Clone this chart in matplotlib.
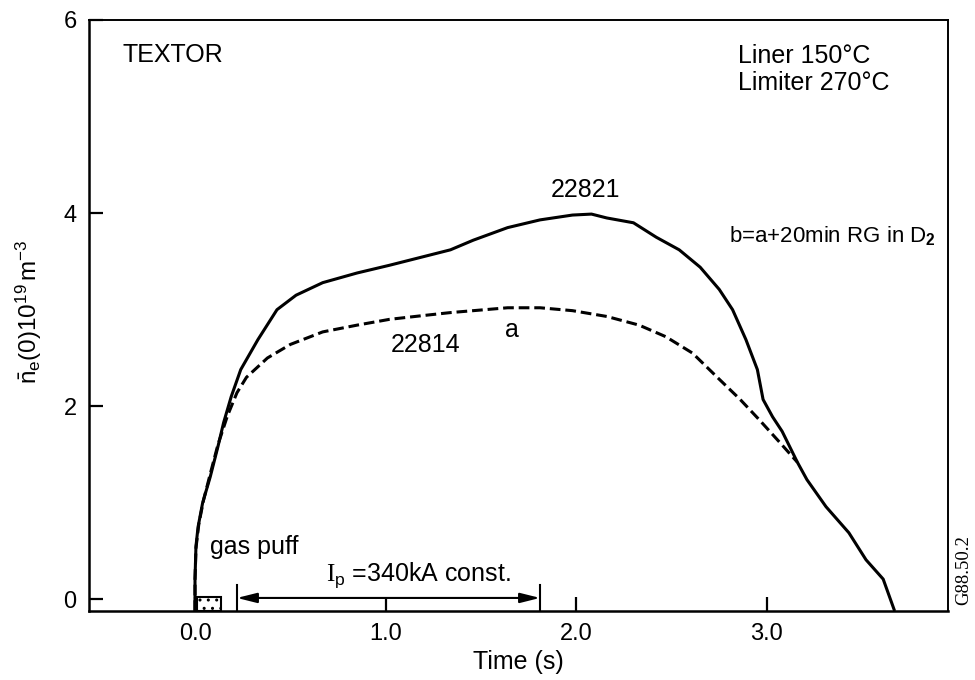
import matplotlib
matplotlib.use('Agg')
import matplotlib.pyplot as plt
from matplotlib.patches import Rectangle

# fonts: helvetica-like text, serif slot used for the current symbol
plt.rcParams['font.family'] = 'Liberation Sans'
plt.rcParams['mathtext.fontset'] = 'custom'
plt.rcParams['mathtext.rm'] = 'Liberation Sans'
plt.rcParams['mathtext.it'] = 'Liberation Sans:italic'
plt.rcParams['mathtext.bf'] = 'Liberation Sans:bold'
plt.rcParams['mathtext.tt'] = 'Liberation Serif'

# shot 22821 (b): after 20 min RG in D2
b_time = [0.0, 0.0, 0.005, 0.016, 0.04, 0.08, 0.12, 0.15, 0.19, 0.24, 0.33, 0.43,
          0.53, 0.67, 0.85, 1.02, 1.20, 1.34, 1.46, 1.64, 1.81, 1.98, 2.08, 2.16,
          2.30, 2.42, 2.54, 2.65, 2.75, 2.82, 2.89, 2.95, 2.98, 3.03, 3.08, 3.12,
          3.16, 3.21, 3.31, 3.43, 3.52, 3.61, 3.67]
b_dens = [-0.12, 0.21, 0.55, 0.75, 1.00, 1.27, 1.58, 1.83, 2.10, 2.38, 2.69, 3.00,
          3.15, 3.28, 3.38, 3.46, 3.55, 3.62, 3.72, 3.85, 3.93, 3.98, 3.99, 3.95,
          3.90, 3.75, 3.62, 3.44, 3.21, 3.00, 2.69, 2.38, 2.07, 1.89, 1.74, 1.58,
          1.42, 1.24, 0.96, 0.69, 0.41, 0.21, -0.12]

# shot 22814 (a): reference discharge
a_time = [0.0, 0.0, 0.005, 0.02, 0.045, 0.08, 0.12, 0.17, 0.22, 0.27, 0.38, 0.50,
          0.67, 0.85, 1.02, 1.20, 1.34, 1.46, 1.64, 1.81, 1.98, 2.16, 2.33, 2.47,
          2.61, 2.75, 2.86, 2.96, 3.07, 3.16]
a_dens = [-0.12, 0.20, 0.53, 0.78, 1.03, 1.30, 1.60, 1.90, 2.14, 2.30, 2.50, 2.64,
          2.77, 2.84, 2.90, 2.94, 2.97, 2.99, 3.02, 3.02, 2.99, 2.93, 2.84, 2.72,
          2.55, 2.28, 2.07, 1.86, 1.62, 1.42]

gas_puff = (0.01, 0.135)        # gas puff window (s)
flat_top = (0.22, 1.81)         # Ip = 340 kA plateau (s)

x_ticks = [0.0, 1.0, 2.0, 3.0]
x_ticklabels = ['0.0', '1.0', '2.0', '3.0']
y_ticks = [0, 2, 4, 6]

fig = plt.figure(figsize=(9.75, 6.8), dpi=100)
ax = fig.add_axes([0.0913, 0.1015, 0.881, 0.8691])

ax.plot(b_time, b_dens, color='black', lw=2.2, solid_capstyle='butt')
ax.plot(a_time, a_dens, color='black', lw=2.2, dashes=(3.5, 1.6))

# gas puff marker
ax.add_patch(Rectangle((gas_puff[0], -0.12), gas_puff[1] - gas_puff[0], 0.14,
                       facecolor='white', edgecolor='black', lw=1.5, hatch='..'))

# plasma current plateau
for t in flat_top:
    ax.plot([t, t], [-0.12, 0.15], color='black', lw=1.5)
ax.annotate('', xy=(flat_top[0], 0.015), xytext=(flat_top[1], 0.015),
            arrowprops=dict(arrowstyle='<|-|>,head_length=0.6,head_width=0.15',
                            mutation_scale=20, color='black', lw=1.5,
                            shrinkA=0, shrinkB=0))
ax.text(1.17, 0.19, r'$\mathtt{I}_\mathrm{p}$ =340kA const.', fontsize=18,
        ha='center', va='baseline')
ax.text(0.08, 0.47, 'gas puff', fontsize=18, ha='left', va='baseline')

ax.text(-0.38, 5.56, 'TEXTOR', fontsize=18, ha='left', va='baseline')
ax.text(2.85, 5.55, 'Liner 150°C', fontsize=18, ha='left', va='baseline')
ax.text(2.85, 5.27, 'Limiter 270°C', fontsize=18, ha='left', va='baseline')
ax.text(2.80, 3.70, r'b=a+20min RG in D$_\mathbf{2}$', fontsize=16, ha='left',
        va='baseline')
ax.text(2.05, 4.17, '22821', fontsize=18, ha='center', va='baseline')
ax.text(1.21, 2.56, '22814', fontsize=18, ha='center', va='baseline')
ax.text(1.66, 2.72, 'a', fontsize=18, ha='center', va='baseline')

fig.text(0.988, 0.162, 'G88.50.2', fontsize=13.5, family='Liberation Serif',
         rotation=90, ha='center', va='center')

ax.set_xlim(-0.556, 3.95)
ax.set_ylim(-0.12, 6.0)
ax.set_xticks(x_ticks)
ax.set_xticklabels(x_ticklabels)
ax.set_yticks(y_ticks)
ax.tick_params(direction='in', length=10, width=1.6, pad=9, labelsize=17)

ax.set_xlabel('Time (s)', fontsize=18, labelpad=3)
ax.set_ylabel(r'$\bar{\mathrm{n}}_\mathrm{e}(0)10^{19}\,\mathrm{m}^{-3}$', fontsize=17.5)
ax.yaxis.set_label_coords(-0.052, 0.506)

for side in ['left', 'bottom']:
    ax.spines[side].set_linewidth(1.8)
for side in ['top', 'right']:
    ax.spines[side].set_linewidth(1.4)

plt.savefig('out.png', dpi=100)
